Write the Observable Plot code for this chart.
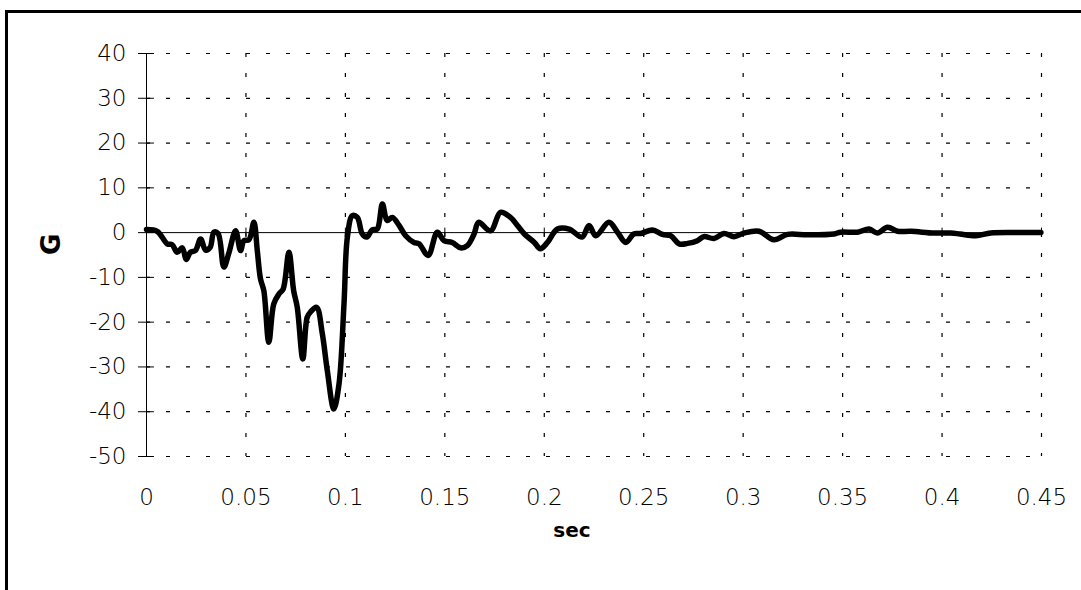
<!DOCTYPE html>
<html><head><meta charset="utf-8">
<script src="https://cdn.jsdelivr.net/npm/d3@7"></script>
<script src="https://cdn.jsdelivr.net/npm/@observablehq/plot@0.6"></script>
<style>
html,body{margin:0;padding:0;background:#fff;}
#wrap{position:relative;width:1081px;height:590px;overflow:hidden;}
#frame{position:absolute;left:5px;top:10px;right:-10px;bottom:-10px;border-left:3px solid #000;border-top:3px solid #000;pointer-events:none;}
</style></head><body><div id="wrap"><div id="chart"></div><div id="frame"></div></div>
<script>
const time = [0, 0.0054, 0.0104, 0.0129, 0.0154, 0.018, 0.020, 0.022, 0.0246, 0.0272, 0.0297, 0.032, 0.0339, 0.036, 0.0389, 0.0414, 0.0448, 0.0473, 0.049, 0.0515, 0.054, 0.0557, 0.0573, 0.059, 0.0615, 0.064, 0.0666, 0.0687, 0.0716, 0.074, 0.0758, 0.0786, 0.0808, 0.0825, 0.0855, 0.0884, 0.0909, 0.0942, 0.0968, 0.0993, 0.101, 0.1035, 0.106, 0.1085, 0.1107, 0.1135, 0.116, 0.1186, 0.121, 0.1236, 0.127, 0.1303, 0.1345, 0.137, 0.1416, 0.1462, 0.1496, 0.1537, 0.158, 0.1613, 0.1647, 0.167, 0.173, 0.178, 0.183, 0.1865, 0.19, 0.195, 0.198, 0.2016, 0.2066, 0.2125, 0.219, 0.2225, 0.2259, 0.2325, 0.2368, 0.241, 0.245, 0.2485, 0.2544, 0.2594, 0.2636, 0.2678, 0.272, 0.277, 0.2803, 0.2853, 0.2904, 0.2954, 0.3004, 0.308, 0.3155, 0.3223, 0.3323, 0.3457, 0.349, 0.3575, 0.3633, 0.3675, 0.3726, 0.3776, 0.3843, 0.396, 0.4044, 0.409, 0.417, 0.4245, 0.438, 0.4497];
const gValues = [0.7, 0.3, -2.5, -2.7, -4.4, -3.4, -6.0, -4.4, -4.0, -1.4, -3.9, -3.3, 0.1, -0.2, -7.7, -4.6, 0.4, -4.0, -1.8, -1.6, 2.3, -4.0, -10.3, -13.0, -24.5, -15.9, -13.7, -12.6, -4.4, -13.0, -16.7, -28.2, -18.9, -17.7, -16.7, -22.6, -30.8, -39.4, -33.8, -15.9, -1.0, 3.8, 3.4, -0.3, -1.0, 0.6, 0.8, 6.4, 2.7, 3.4, 1.6, -0.7, -2.2, -2.5, -5.1, 0.1, -1.8, -2.2, -3.4, -2.9, -0.3, 2.3, 0.4, 4.5, 3.4, 1.6, -0.3, -2.2, -3.6, -2.2, 0.8, 0.8, -1.0, 1.6, -0.7, 2.3, 0.1, -2.2, -0.3, -0.2, 0.6, -0.4, -0.7, -2.5, -2.4, -1.8, -0.9, -1.3, -0.2, -0.9, -0.1, 0.3, -1.6, -0.4, -0.5, -0.3, 0.1, 0.1, 0.8, -0.1, 1.2, 0.3, 0.3, -0.1, -0.1, -0.3, -0.7, -0.1, 0, 0];
const xTicks = [0, 0.05, 0.1, 0.15, 0.2, 0.25, 0.3, 0.35, 0.4, 0.45];
const xTickLabels = ["0", "0.05", "0.1", "0.15", "0.2", "0.25", "0.3", "0.35", "0.4", "0.45"];
const yTicks = [-50, -40, -30, -20, -10, 0, 10, 20, 30, 40];
const yTickLabels = ["-50", "-40", "-30", "-20", "-10", "0", "10", "20", "30", "40"];
const xLabel = "sec";
const yLabel = "G";

const data = time.map((t, i) => ({t, g: gValues[i]}));

const plot = Plot.plot({
  width: 1081, height: 590,
  marginLeft: 146, marginRight: 40, marginTop: 53, marginBottom: 134,
  style: {fontFamily: "DejaVu Sans", fontSize: "23px", background: "transparent", color: "#000"},
  x: {domain: [0, 0.45]},
  y: {domain: [-50, 40]},
  marks: [
    Plot.gridX(xTicks.slice(1), {stroke: "#000", strokeOpacity: 1, strokeWidth: 1.2, strokeDasharray: "4,16"}),
    Plot.gridY(yTicks.filter(d => d !== 0), {stroke: "#000", strokeOpacity: 1, strokeWidth: 1.2, strokeDasharray: "4,16"}),
    Plot.ruleY([0], {stroke: "#000", strokeWidth: 1}),
    Plot.ruleX([0], {stroke: "#000", strokeWidth: 1}),
    Plot.ruleY(yTicks, {y: d => d, x1: -0.004, x2: 0.004, stroke: "#000", strokeWidth: 1}),
    Plot.ruleX(xTicks, {x: d => d, y1: -1, y2: 1, stroke: "#000", strokeWidth: 1}),
    Plot.axisY(yTicks, {tickSize: 0, tickPadding: 20, tickFormat: d => yTickLabels[yTicks.indexOf(d)], label: null, fontWeight: 300}),
    Plot.axisX(xTicks, {tickSize: 0, tickPadding: 32, tickFormat: d => xTickLabels[xTicks.indexOf(d)], label: null, fontWeight: 300}),
    Plot.line(data, {x: "t", y: "g", stroke: "#000", strokeWidth: 5.5, curve: "catmull-rom", strokeLinejoin: "round", strokeLinecap: "round"}),
    Plot.text([xLabel], {frameAnchor: "bottom", dx: -22, dy: 80, lineAnchor: "bottom", fontWeight: "bold", fontSize: 20}),
    Plot.text([yLabel], {frameAnchor: "left", dx: -95, rotate: -90, fontWeight: "bold", fontSize: 26})
  ]
});
document.getElementById("chart").appendChild(plot);
</script></body></html>
